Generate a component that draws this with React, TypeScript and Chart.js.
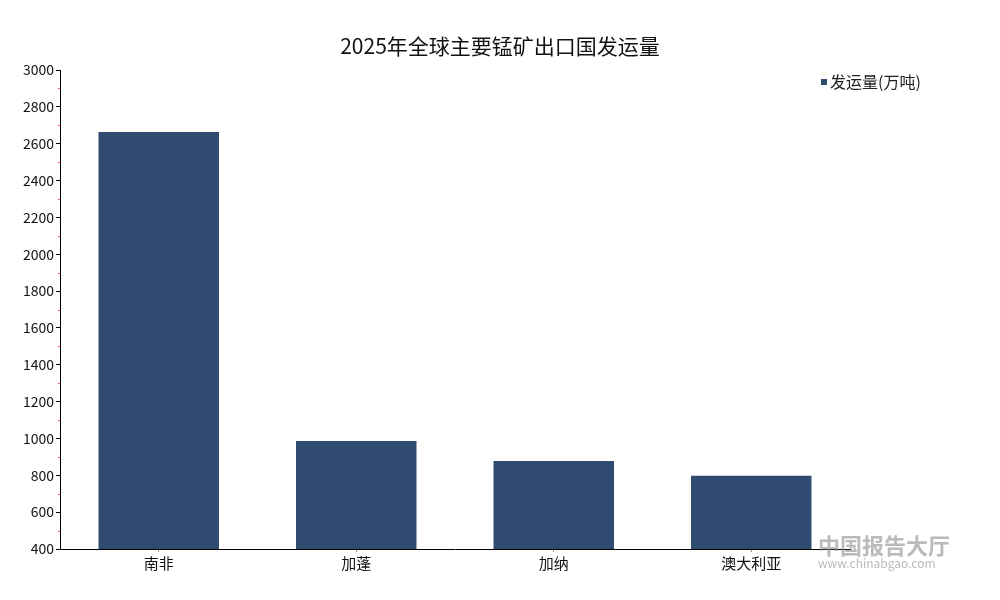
import { useRef, useEffect } from "react"
import { Chart, registerables } from "chart.js"

Chart.register(...registerables)

const title = "2025年全球主要锰矿出口国发运量"
const seriesName = "发运量(万吨)"
const countries = ["南非", "加蓬", "加纳", "澳大利亚"]
const shipments = [2663, 986, 878, 797]
const yMin = 400
const yMax = 3000
const yStep = 200

const barColor = "#2f4b6f"
const fontFamily = "'Noto Sans CJK SC', 'Noto Sans', sans-serif"

// red half-step ticks on the y axis
const minorTicks = {
    id: "minorTicks",
    afterDraw(chart: Chart) {
        const y = chart.scales.y
        const ctx = chart.ctx
        ctx.save()
        ctx.strokeStyle = "#ff4d4d"
        ctx.lineWidth = 1
        for (let v = yMin + yStep / 2; v < yMax; v += yStep) {
            const py = Math.round(y.getPixelForValue(v)) + 0.5
            ctx.beginPath()
            ctx.moveTo(y.right - 2, py)
            ctx.lineTo(y.right, py)
            ctx.stroke()
        }
        ctx.restore()
    },
}

// title centred on the whole canvas, legend at the top right
const header = {
    id: "header",
    afterDraw(chart: Chart) {
        const ctx = chart.ctx
        ctx.save()
        ctx.fillStyle = "#111"
        ctx.font = `21px ${fontFamily}`
        ctx.textAlign = "center"
        ctx.textBaseline = "middle"
        ctx.fillText(title, chart.width / 2, 46)

        const x = chart.chartArea.right - 29
        const y = chart.chartArea.top + 12
        ctx.fillStyle = barColor
        ctx.fillRect(x, y - 3, 6, 6)
        ctx.fillStyle = "#222"
        ctx.font = `16px ${fontFamily}`
        ctx.textAlign = "left"
        ctx.fillText(seriesName, x + 9, y)
        ctx.restore()
    },
}

const watermark = {
    id: "watermark",
    afterDraw(chart: Chart) {
        const ctx = chart.ctx
        ctx.save()
        ctx.fillStyle = "rgba(140,140,140,0.6)"
        ctx.font = `bold 22px ${fontFamily}`
        ctx.textBaseline = "middle"
        ctx.fillText("中国报告大厅", 818, 546)
        ctx.font = `12px ${fontFamily}`
        ctx.fillText("www.chinabgao.com", 818, 563)
        ctx.restore()
    },
}

export default function App() {
    const chartRef = useRef<HTMLCanvasElement | null>(null)
    const chartInstance = useRef<Chart | null>(null)

    useEffect(() => {
        document.body.style.margin = "0"
        if (!chartRef.current) return
        if (chartInstance.current) chartInstance.current.destroy()

        chartInstance.current = new Chart(chartRef.current, {
            type: "bar",
            data: {
                labels: countries,
                datasets: [
                    {
                        label: seriesName,
                        data: shipments,
                        backgroundColor: barColor,
                        barPercentage: 0.61,
                        categoryPercentage: 1,
                    },
                ],
            },
            options: {
                responsive: true,
                maintainAspectRatio: false,
                animation: false,
                layout: { padding: { left: 0, right: 150, top: 70, bottom: 0 } },
                plugins: {
                    legend: { display: false },
                    tooltip: { enabled: false },
                    title: { display: false },
                },
                scales: {
                    x: {
                        grid: {
                            drawOnChartArea: false,
                            offset: false,
                            tickLength: 3,
                            color: "#999",
                        },
                        border: { color: "#000", width: 1 },
                        ticks: {
                            color: "#111",
                            padding: 2,
                            font: { family: fontFamily, size: 15 },
                        },
                        afterFit: (s: any) => {
                            s.height = 51
                        },
                    },
                    y: {
                        min: yMin,
                        max: yMax,
                        grid: {
                            drawOnChartArea: false,
                            tickLength: 4,
                            color: "#000",
                        },
                        border: { color: "#000", width: 1 },
                        ticks: {
                            stepSize: yStep,
                            color: "#111",
                            padding: 2,
                            font: { family: fontFamily, size: 14 },
                            callback: (v: any) => String(v),
                        },
                        afterFit: (s: any) => {
                            s.width = 60
                        },
                    },
                },
            },
            plugins: [minorTicks, header, watermark],
        })

        return () => {
            if (chartInstance.current) {
                chartInstance.current.destroy()
                chartInstance.current = null
            }
        }
    }, [])

    return (
        <div style={{ width: 1000, height: 600, position: "relative", background: "#fff" }}>
            <canvas ref={chartRef} />
        </div>
    )
}
